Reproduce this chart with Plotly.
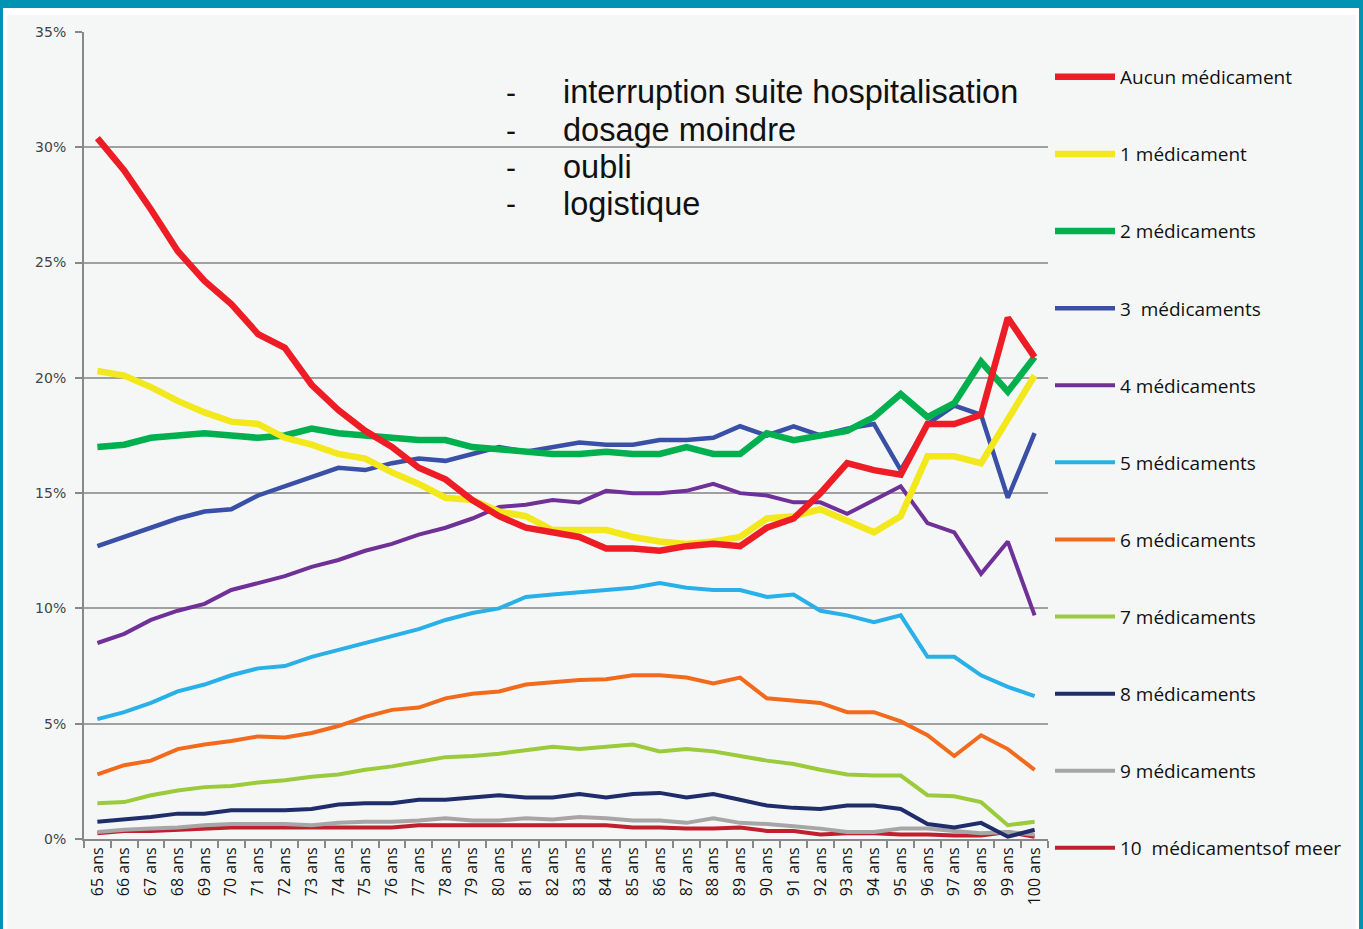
import plotly.graph_objects as go

ages = [f"{a} ans" for a in range(65, 101)]

aucun = [30.4, 29.0, 27.3, 25.5, 24.2, 23.2, 21.9, 21.3, 19.7, 18.6, 17.7, 17.0, 16.1, 15.6, 14.7, 14.0,
         13.5, 13.3, 13.1, 12.6, 12.6, 12.5, 12.7, 12.8, 12.7, 13.5, 13.9, 15.0, 16.3, 16.0, 15.8, 18.0,
         18.0, 18.4, 22.6, 20.9]
med1 = [20.3, 20.1, 19.6, 19.0, 18.5, 18.1, 18.0, 17.4, 17.1, 16.7, 16.5, 15.9, 15.4, 14.8, 14.7, 14.2,
        14.0, 13.4, 13.4, 13.4, 13.1, 12.9, 12.8, 12.9, 13.1, 13.9, 14.0, 14.3, 13.8, 13.3, 14.0, 16.6,
        16.6, 16.3, 18.2, 20.1]
med2 = [17.0, 17.1, 17.4, 17.5, 17.6, 17.5, 17.4, 17.5, 17.8, 17.6, 17.5, 17.4, 17.3, 17.3, 17.0, 16.9,
        16.8, 16.7, 16.7, 16.8, 16.7, 16.7, 17.0, 16.7, 16.7, 17.6, 17.3, 17.5, 17.7, 18.3, 19.3, 18.3,
        18.9, 20.7, 19.4, 20.9]
med3 = [12.7, 13.1, 13.5, 13.9, 14.2, 14.3, 14.9, 15.3, 15.7, 16.1, 16.0, 16.3, 16.5, 16.4, 16.7, 17.0,
        16.8, 17.0, 17.2, 17.1, 17.1, 17.3, 17.3, 17.4, 17.9, 17.5, 17.9, 17.5, 17.8, 18.0, 16.0, 18.0,
        18.8, 18.4, 14.8, 17.6]
med4 = [8.5, 8.9, 9.5, 9.9, 10.2, 10.8, 11.1, 11.4, 11.8, 12.1, 12.5, 12.8, 13.2, 13.5, 13.9, 14.4,
        14.5, 14.7, 14.6, 15.1, 15.0, 15.0, 15.1, 15.4, 15.0, 14.9, 14.6, 14.6, 14.1, 14.7, 15.3, 13.7,
        13.3, 11.5, 12.9, 9.7]
med5 = [5.2, 5.5, 5.9, 6.4, 6.7, 7.1, 7.4, 7.5, 7.9, 8.2, 8.5, 8.8, 9.1, 9.5, 9.8, 10.0,
        10.5, 10.6, 10.7, 10.8, 10.9, 11.1, 10.9, 10.8, 10.8, 10.5, 10.6, 9.9, 9.7, 9.4, 9.7, 7.9,
        7.9, 7.1, 6.6, 6.2]
med6 = [2.8, 3.2, 3.4, 3.9, 4.1, 4.25, 4.45, 4.4, 4.6, 4.9, 5.3, 5.6, 5.7, 6.1, 6.3, 6.4,
        6.7, 6.8, 6.9, 6.93, 7.1, 7.1, 7.0, 6.75, 7.0, 6.1, 6.0, 5.9, 5.5, 5.5, 5.1, 4.5,
        3.6, 4.5, 3.9, 3.0]
med7 = [1.55, 1.6, 1.9, 2.1, 2.25, 2.3, 2.45, 2.55, 2.7, 2.8, 3.0, 3.15, 3.35, 3.55, 3.6, 3.7,
        3.85, 4.0, 3.9, 4.0, 4.1, 3.8, 3.9, 3.8, 3.6, 3.4, 3.25, 3.0, 2.8, 2.75, 2.75, 1.9,
        1.85, 1.6, 0.6, 0.75]
med8 = [0.75, 0.85, 0.95, 1.1, 1.1, 1.25, 1.25, 1.25, 1.3, 1.5, 1.55, 1.55, 1.7, 1.7, 1.8, 1.9,
        1.8, 1.8, 1.95, 1.8, 1.95, 2.0, 1.8, 1.95, 1.7, 1.45, 1.35, 1.3, 1.45, 1.45, 1.3, 0.65,
        0.5, 0.7, 0.1, 0.4]
med9 = [0.3, 0.4, 0.45, 0.5, 0.6, 0.65, 0.65, 0.65, 0.6, 0.7, 0.75, 0.75, 0.8, 0.9, 0.8, 0.8,
        0.9, 0.85, 0.95, 0.9, 0.8, 0.8, 0.7, 0.9, 0.7, 0.65, 0.55, 0.45, 0.3, 0.3, 0.45, 0.45,
        0.35, 0.25, 0.3, 0.2]
med10 = [0.25, 0.35, 0.35, 0.4, 0.45, 0.5, 0.5, 0.5, 0.5, 0.5, 0.5, 0.5, 0.6, 0.6, 0.6, 0.6,
         0.6, 0.6, 0.6, 0.6, 0.5, 0.5, 0.45, 0.45, 0.5, 0.35, 0.35, 0.2, 0.25, 0.25, 0.2, 0.2,
         0.15, 0.15, 0.3, 0.1]

series_names = ["Aucun médicament", "1 médicament", "2 médicaments", "3  médicaments",
                "4 médicaments", "5 médicaments", "6 médicaments", "7 médicaments",
                "8 médicaments", "9 médicaments", "10  médicamentsof meer"]
series_values = [aucun, med1, med2, med3, med4, med5, med6, med7, med8, med9, med10]
series_colors = ["#EE1C25", "#F2E81C", "#00B04F", "#3A4FA6", "#6F3198", "#29B0E8",
                 "#F26B1D", "#9BCB3B", "#1F2D6B", "#A6A6A6", "#C0202E"]
series_widths = [6.5, 6.5, 6.5, 4.5, 4, 4, 4, 4, 4, 4, 4]

bullets = ["interruption suite hospitalisation", "dosage moindre", "oubli", "logistique"]

W, H = 1363, 929
L, R, T, B = 84, 1048, 32, 839

fig = go.Figure()
# draw from the back (10+) to the front (Aucun)
for i in reversed(range(len(series_names))):
    fig.add_trace(go.Scatter(
        x=ages, y=series_values[i], mode="lines", name=series_names[i],
        line=dict(color=series_colors[i], width=series_widths[i], shape="linear"),
        legendgroup=f"g{i}", legendrank=i + 1,
    ))

def px_x(px):
    return (px - L) / (R - L)

def px_y(py):
    return (B - py) / (B - T)

annotations = []
line_y = [92, 130, 167, 204]
for txt, yy in zip(bullets, line_y):
    annotations.append(dict(text="-", x=px_x(511), y=px_y(yy), xref="paper", yref="paper",
                            xanchor="center", yanchor="middle", showarrow=False,
                            font=dict(family="Liberation Sans", size=30, color="#111")))
    annotations.append(dict(text=txt, x=px_x(561), y=px_y(yy), xref="paper", yref="paper",
                            xanchor="left", yanchor="middle", showarrow=False,
                            font=dict(family="Liberation Sans", size=32.5, color="#111")))

teal = "#0093B2"
shapes = [
    dict(type="rect", xref="paper", yref="paper", x0=px_x(7), x1=px_x(1356), y0=px_y(H + 5), y1=px_y(15),
         fillcolor="#F5F7F7", line=dict(width=0), layer="below"),
    dict(type="rect", xref="paper", yref="paper", x0=px_x(-5), x1=px_x(W + 5), y0=px_y(8), y1=px_y(-5),
         fillcolor=teal, line=dict(width=0), layer="below"),
    dict(type="rect", xref="paper", yref="paper", x0=px_x(-5), x1=px_x(3), y0=px_y(H + 5), y1=px_y(0),
         fillcolor=teal, line=dict(width=0), layer="below"),
    dict(type="rect", xref="paper", yref="paper", x0=px_x(1359), x1=px_x(W + 5), y0=px_y(H + 5), y1=px_y(0),
         fillcolor=teal, line=dict(width=0), layer="below"),
]

fig.update_layout(
    width=W, height=H,
    margin=dict(l=L, r=W - R, t=T, b=H - B, pad=0),
    paper_bgcolor="white",
    plot_bgcolor="rgba(0,0,0,0)",
    showlegend=True,
    legend=dict(x=px_x(1050), y=px_y(58), xanchor="left", yanchor="top",
                xref="paper", yref="paper",
                font=dict(family="Open Sans", size=19, color="#111"),
                bgcolor="rgba(0,0,0,0)", tracegroupgap=49.4, traceorder="grouped",
                itemwidth=60, maxheight=920),
    annotations=annotations,
    shapes=shapes,
    xaxis=dict(type="category", range=[-0.5, 35.5], tickson="boundaries", ticks="outside",
               ticklen=7, tickcolor="#888", tickwidth=1.5, showline=True, linecolor="#888",
               linewidth=2, showgrid=False, tickangle=-90,
               tickfont=dict(family="Open Sans", size=16, color="#111"), zeroline=False),
    yaxis=dict(range=[0, 35], dtick=5, ticksuffix="%", ticks="outside", ticklen=7,
               tickcolor="#888", tickwidth=1.5, showline=True, linecolor="#888", linewidth=2,
               showgrid=True, gridcolor="#A0A0A0", gridwidth=1.5, zeroline=False,
               tickfont=dict(family="DejaVu Sans", size=14, color="#444"), ticklabelstandoff=6),
)

fig.write_html("out.html", config={"displayModeBar": False},
               post_script="document.body.style.margin='0';document.body.style.padding='0';")
